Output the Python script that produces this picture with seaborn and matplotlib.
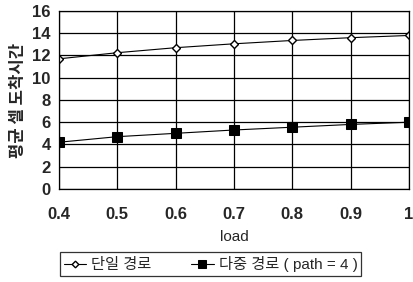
import matplotlib
matplotlib.use("Agg")
import matplotlib.pyplot as plt
import seaborn as sns
import pandas as pd

loads = [0.4, 0.5, 0.6, 0.7, 0.8, 0.9, 1.0]
single = [11.7, 12.25, 12.7, 13.05, 13.35, 13.6, 13.8]
multi = [4.2, 4.7, 5.0, 5.3, 5.55, 5.8, 6.0]
series_names = ["단일 경로", "다중 경로 ( path = 4 )"]
xtick_labels = ["0.4", "0.5", "0.6", "0.7", "0.8", "0.9", "1"]
yticks = [0, 2, 4, 6, 8, 10, 12, 14, 16]

sns.set_theme(style="white")
plt.rcParams['font.family'] = ['Liberation Sans', 'Noto Sans CJK KR']

df = pd.DataFrame({
    "load": loads * 2,
    "value": single + multi,
    "series": [series_names[0]] * len(loads) + [series_names[1]] * len(loads),
})

fig = plt.figure(figsize=(4.14, 2.82), dpi=100)
ax = fig.add_axes([0.1425, 0.33, 0.845, 0.631])

sns.lineplot(data=df[df.series == series_names[0]], x="load", y="value", ax=ax,
             color="black", linewidth=0.8, marker="D", markersize=4.5,
             markerfacecolor="white", markeredgecolor="black", markeredgewidth=1.0,
             label=series_names[0])
sns.lineplot(data=df[df.series == series_names[1]], x="load", y="value", ax=ax,
             color="black", linewidth=0.8, marker="s", markersize=7,
             markerfacecolor="black", markeredgecolor="black",
             label=series_names[1])

ax.set_xlim(0.4, 1.0)
ax.set_ylim(0, 16)
ax.set_xticks(loads)
ax.set_xticklabels(xtick_labels, fontweight="bold")
ax.set_yticks(yticks)
ax.set_yticklabels([str(v) for v in yticks], fontweight="bold")
ax.grid(True, color="black", linewidth=0.9)
for s in ax.spines.values():
    s.set_color("black")
    s.set_linewidth(0.9)
ax.tick_params(axis="x", length=0, pad=13, labelsize=12)
ax.tick_params(axis="y", length=0, pad=6, labelsize=12)
ax.set_xlabel("load", fontsize=11, labelpad=6)
ax.set_ylabel("평균 셀 도착시간", fontsize=12, family=['Noto Sans CJK KR'],
              fontweight="bold", labelpad=4)

leg = ax.legend(loc="upper center", bbox_to_anchor=(0.433, -0.355), ncol=2,
                frameon=True, fancybox=False, edgecolor="black",
                handlelength=1.5, handletextpad=0.3, columnspacing=2.6,
                borderpad=0.25, borderaxespad=0, markerscale=0.75,
                prop={'family': ['Liberation Sans', 'Noto Sans CJK KR'], 'size': 11})
leg.get_frame().set_linewidth(0.9)

fig.savefig("out.png", dpi=100)
